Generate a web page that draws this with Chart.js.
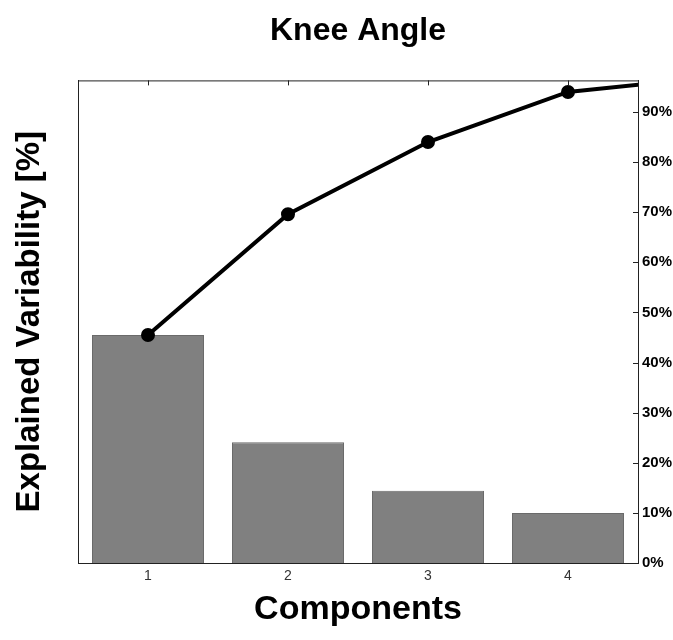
<!DOCTYPE html>
<html>
<head>
<meta charset="utf-8">
<script src="https://cdn.jsdelivr.net/npm/chart.js@4.4.1/dist/chart.umd.min.js"></script>
<style>
  html, body { margin: 0; padding: 0; background: #fff; }
  canvas { display: block; }
</style>
</head>
<body>
<canvas id="canvas" width="673" height="640"></canvas>
<script>
// component numbers and explained variability (%)
var components = [1, 2, 3, 4];
var explained  = [45.5, 24.1, 14.4, 10.0];
// cumulative line, the 5th point lies past the right edge (clipped)
var cumComponents = [1, 2, 3, 4, 5];
var cumulative    = [45.5, 69.6, 84.0, 94.0, 96.9];
var percentTicks  = [0, 10, 20, 30, 40, 50, 60, 70, 80, 90];
var yMax = 96.3;

var sans = "'Liberation Sans', Arial, sans-serif";

var barData = components.map(function(c, i) { return {x: c, y: explained[i]}; });
var lineData = cumComponents.map(function(c, i) { return {x: c, y: cumulative[i]}; });

// box round the plot, with small inward ticks like the original
var frame = {
	id: 'frame',
	afterDraw: function(chart) {
		var ctx = chart.ctx, a = chart.chartArea;
		var xs = chart.scales.x, ys = chart.scales.y1;
		ctx.save();
		ctx.strokeStyle = '#222';
		ctx.lineWidth = 1;
		ctx.strokeRect(a.left + 0.5, a.top + 0.5, a.right - a.left, a.bottom - a.top);
		ctx.beginPath();
		ys.ticks.forEach(function(t) {
			var y = Math.round(ys.getPixelForValue(t.value)) + 0.5;
			ctx.moveTo(a.right, y);
			ctx.lineTo(a.right - 5, y);
		});
		components.forEach(function(c) {
			var x = Math.round(xs.getPixelForValue(c)) + 0.5;
			ctx.moveTo(x, a.top);
			ctx.lineTo(x, a.top + 5);
		});
		ctx.stroke();
		ctx.restore();
	}
};

var ctx = document.getElementById("canvas").getContext("2d");
var paretoChart = new Chart(ctx, {
	type: 'bar',
	data: {
		datasets: [
			{
				type: 'line',
				label: 'Cumulative',
				data: lineData,
				borderColor: '#000',
				borderWidth: 4,
				pointRadius: 5,
				pointBackgroundColor: '#000',
				pointBorderColor: '#000',
				fill: false,
				tension: 0,
				order: 0,
				yAxisID: 'y'
			},
			{
				label: 'Explained',
				data: barData,
				backgroundColor: '#808080',
				borderColor: '#6a6a6a',
				borderWidth: 1,
				categoryPercentage: 1,
				barPercentage: 0.8,
				order: 1,
				yAxisID: 'y'
			}
		]
	},
	options: {
		responsive: false,
		animation: false,
		layout: { padding: 0 },
		plugins: {
			legend: { display: false },
			tooltip: { enabled: false },
			title: {
				display: true,
				text: 'Knee Angle',
				fullSize: false,
				color: '#000',
				font: { family: sans, size: 32, weight: 'bold' },
				padding: { top: 12, bottom: 30 }
			}
		},
		scales: {
			x: {
				type: 'linear',
				min: 0.5,
				max: 4.5,
				offset: false,
				grid: { display: false, drawTicks: false },
				border: { display: true, color: '#222' },
				afterBuildTicks: function(scale) {
					scale.ticks = components.map(function(c) { return {value: c}; });
				},
				ticks: {
					padding: 5,
					color: '#333',
					font: { family: sans, size: 14 },
					callback: function(v) { return String(v); }
				},
				title: {
					display: true,
					text: 'Components',
					color: '#000',
					font: { family: sans, size: 34, weight: 'bold' },
					padding: { top: 0, bottom: 10 }
				},
				afterFit: function(scale) { scale.height = 77; }
			},
			y: {
				position: 'left',
				min: 0,
				max: yMax,
				grid: { display: false, drawTicks: false },
				border: { display: true, color: '#222' },
				ticks: { display: false },
				title: {
					display: true,
					text: 'Explained Variability [%]',
					color: '#000',
					font: { family: sans, size: 33, weight: 'bold' },
					padding: { top: 10, bottom: 0 }
				},
				afterFit: function(scale) { scale.width = 78; }
			},
			y1: {
				position: 'right',
				min: 0,
				max: yMax,
				grid: { display: false, drawTicks: false },
				border: { display: true, color: '#222' },
				afterBuildTicks: function(scale) {
					scale.ticks = percentTicks.map(function(p) { return {value: p}; });
				},
				ticks: {
					padding: 4,
					color: '#000',
					font: { family: sans, size: 15, weight: 'bold' },
					callback: function(v) { return v + '%'; }
				},
				afterFit: function(scale) { scale.width = 35; }
			}
		}
	},
	plugins: [frame]
});
</script>
</body>
</html>
